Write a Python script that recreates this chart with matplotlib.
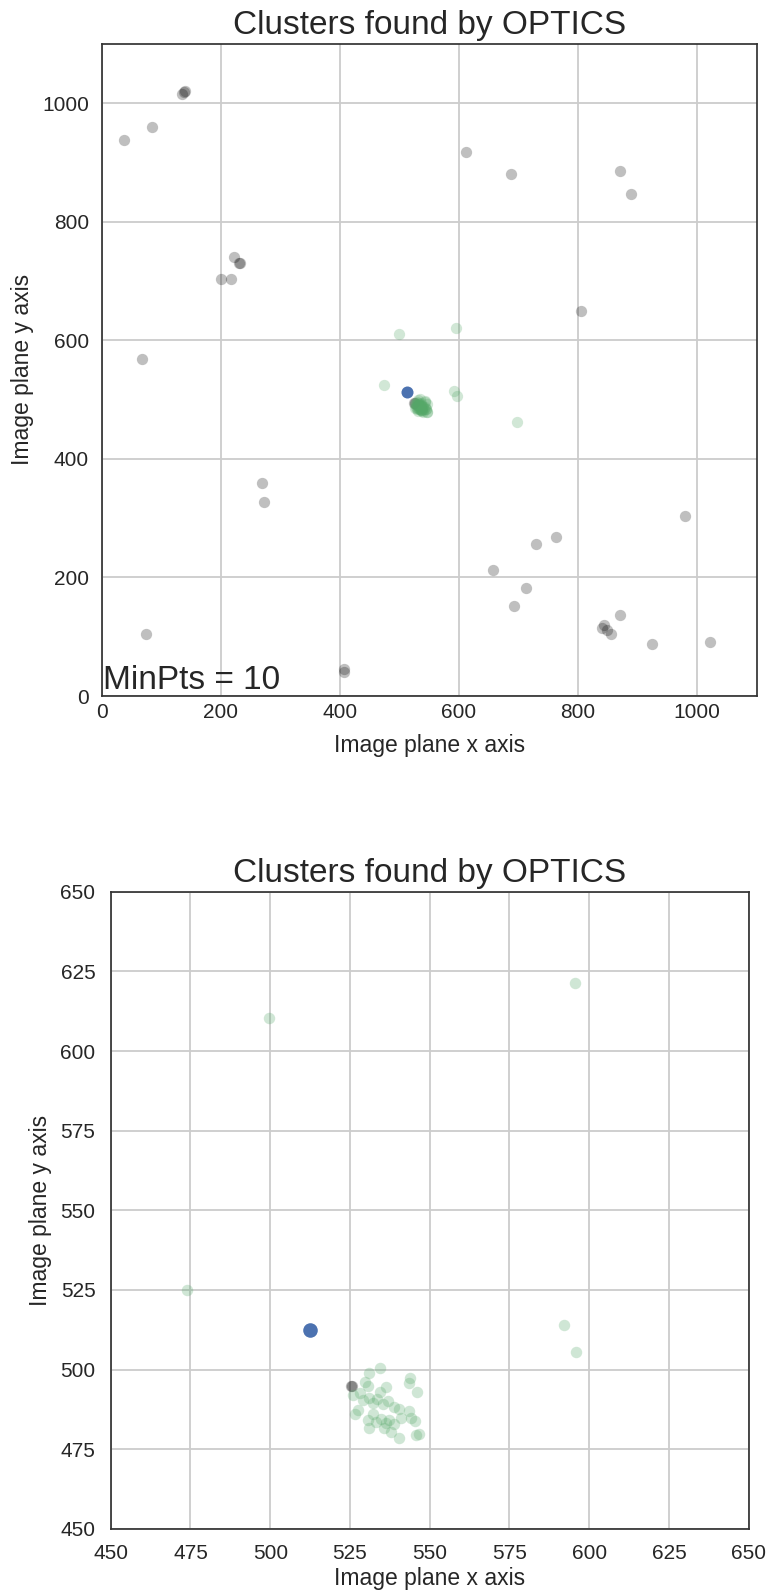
import matplotlib
matplotlib.use("Agg")
import matplotlib.pyplot as plt

# noise points (not assigned to any cluster)
noise_x = [135, 138, 140, 85, 37, 223, 231, 232, 200, 217, 68, 269, 273, 74,
           407, 407, 612, 687, 870, 889, 805, 980, 763, 729, 657, 712, 693,
           870, 844, 841, 855, 848, 924, 1021, 525.3, 525.6]
noise_y = [1015, 1019, 1021, 960, 938, 741, 730, 731, 704, 704, 569, 359, 327, 104,
           45, 40, 917, 880, 886, 847, 649, 304, 269, 256, 213, 182, 151,
           136, 120, 114, 105, 112, 87, 91, 494.9, 494.7]

# points of the found cluster
cluster_x = [474, 499.5, 595.5, 592, 596, 697,
             534.4, 531.1, 529.8, 530.7, 543.8, 543.6, 546.1, 536.3, 534.4, 528.1,
             526.0, 529.0, 530.9, 532.1, 533.4, 535.2, 536.8, 538.9, 540.5, 543.6,
             527.4, 526.7, 532.1, 530.5, 533.2, 534.7, 536.3, 537.3, 538.9, 541.0,
             544.1, 545.5, 531.1, 535.8, 537.9, 540.5, 545.7, 546.5]
cluster_y = [525, 610.5, 621.3, 514, 505.5, 462,
             500.6, 499.0, 496.1, 494.9, 497.4, 495.8, 492.8, 494.6, 493.0, 492.5,
             491.9, 490.4, 491.2, 489.5, 490.9, 489.3, 490.2, 488.3, 487.7, 487.0,
             487.2, 486.2, 486.0, 484.1, 483.6, 484.6, 483.2, 484.3, 482.8, 484.8,
             484.9, 483.9, 481.5, 481.8, 480.4, 478.6, 479.4, 479.7]

# the query point
query_x = [512.5]
query_y = [512.4]

plt.rcParams["font.family"] = ["Liberation Sans", "DejaVu Sans"]
plt.rcParams["text.color"] = "#262626"
plt.rcParams["axes.labelcolor"] = "#262626"
plt.rcParams["xtick.color"] = "#262626"
plt.rcParams["ytick.color"] = "#262626"

GREEN = "#55A868"
BLUE = "#4C72B0"


def style(ax, lim, ticks, xpad, ypad, xlabelpad):
    ax.set_xlim(*lim)
    ax.set_ylim(*lim)
    ax.set_xticks(ticks)
    ax.set_yticks(ticks)
    ax.grid(True, color="#cccccc", linewidth=1.3)
    ax.set_axisbelow(True)
    for s in ax.spines.values():
        s.set_color("#333333")
        s.set_linewidth(1.25)
    ax.tick_params(axis="x", length=0, pad=xpad, labelsize=15)
    ax.tick_params(axis="y", length=0, pad=ypad, labelsize=15)
    ax.set_title("Clusters found by OPTICS", fontsize=24, pad=7)
    ax.set_xlabel("Image plane x axis", fontsize=16.5, labelpad=xlabelpad)
    ax.set_ylabel("Image plane y axis", fontsize=16.5, labelpad=6)


fig = plt.figure(figsize=(7.69, 15.92), dpi=100)

ax1 = fig.add_axes([0.132, 0.5628, 0.852, 0.4097])
ax1.scatter(noise_x, noise_y, s=66, c="k", alpha=0.25, linewidths=0)
ax1.scatter(cluster_x, cluster_y, s=66, c=GREEN, alpha=0.27, linewidths=0)
ax1.scatter(query_x, query_y, s=75, c=BLUE, linewidths=0)
style(ax1, (0, 1100), [0, 200, 400, 600, 800, 1000], 5, 9, 9)
ax1.text(2, 0, "MinPts = 10", fontsize=24, va="bottom", ha="left")

ax2 = fig.add_axes([0.144, 0.0397, 0.8296, 0.4001])
ax2.scatter(noise_x, noise_y, s=66, c="k", alpha=0.27, linewidths=0)
ax2.scatter(cluster_x, cluster_y, s=68, c=GREEN, alpha=0.28, linewidths=0)
ax2.scatter(query_x, query_y, s=110, c=BLUE, linewidths=0)
style(ax2, (450, 650), list(range(450, 651, 25)), 11, 11, 3)

fig.savefig("out.png", dpi=100)
